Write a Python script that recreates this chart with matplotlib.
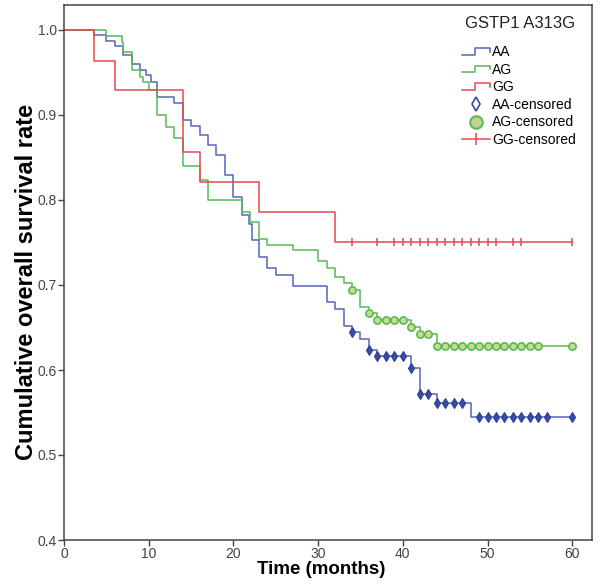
import numpy as np
import matplotlib
matplotlib.use('Agg')
import matplotlib.pyplot as plt
from matplotlib.lines import Line2D
from matplotlib.legend_handler import HandlerLine2D

''' kaplan-meier curves for GSTP1 A313G genotypes, values read off the published figure '''

# event times (months) and survival after each event
aa_time = [0, 3.5, 5, 6, 7, 8, 9, 9.7, 10.3, 11, 13, 14, 15, 16, 17, 18, 19, 20, 21, 21.8, 22.2, 23, 24, 25,
	27, 31, 32, 33, 34, 35, 36, 37, 41, 42, 44, 48]
aa_surv = [1.0, 0.994, 0.987, 0.981, 0.971, 0.960, 0.953, 0.947, 0.939, 0.921, 0.914, 0.894, 0.887, 0.876,
	0.865, 0.853, 0.830, 0.803, 0.782, 0.772, 0.753, 0.733, 0.720, 0.712, 0.699, 0.680, 0.672, 0.652,
	0.645, 0.636, 0.624, 0.617, 0.602, 0.572, 0.561, 0.545]
aa_censored = [34, 36, 37, 38, 39, 40, 41, 42, 43, 44, 45, 46, 47, 49, 50, 51, 52, 53, 54, 55, 56, 57, 60]

ag_time = [0, 5, 6.8, 7, 8, 9, 9.3, 10, 11, 12, 13, 14, 16, 17, 21, 22, 23, 24, 27, 30, 31, 32, 33, 34,
	35, 36, 37, 41, 42, 44]
ag_surv = [1.0, 0.993, 0.986, 0.974, 0.953, 0.945, 0.939, 0.929, 0.900, 0.886, 0.873, 0.840, 0.824, 0.800,
	0.786, 0.774, 0.754, 0.747, 0.741, 0.728, 0.720, 0.710, 0.702, 0.694, 0.674, 0.667, 0.659, 0.651,
	0.642, 0.628]
ag_censored = [34, 36, 37, 38, 39, 40, 41, 42, 43, 44, 45, 46, 47, 48, 49, 50, 51, 52, 53, 54, 55, 56, 60]

gg_time = [0, 3.6, 6, 14, 16, 23, 32]
gg_surv = [1.0, 0.964, 0.929, 0.857, 0.821, 0.786, 0.750]
gg_censored = [34, 37, 39, 40, 41, 42, 43, 44, 45, 46, 47, 48, 49, 50, 51, 53, 54, 60]

groups = ['AA', 'AG', 'GG']
end_time = 60
x_ticks = [0, 10, 20, 30, 40, 50, 60]
y_ticks = [0.4, 0.5, 0.6, 0.7, 0.8, 0.9, 1.0]


class StepHandler(HandlerLine2D):
	# legend icon drawn as a little step, like SPSS does
	def create_artists(self, legend, orig_handle, xdescent, ydescent, width, height, fontsize, trans):
		x0, y0 = -xdescent, -ydescent
		xs = [x0, x0 + width*0.45, x0 + width*0.45, x0 + width, x0 + width]
		ys = [y0 + height*0.15, y0 + height*0.15, y0 + height*0.8, y0 + height*0.8, y0 + height*0.45]
		line = Line2D(xs, ys, color=orig_handle.get_color(), lw=orig_handle.get_linewidth())
		line.set_transform(trans)
		return [line]


def level_at(times, surv, t):
	idx = np.searchsorted(times, t, side='right') - 1
	return np.asarray(surv)[idx]


def main():
	plt.rcParams['font.family'] = ['Liberation Sans', 'DejaVu Sans']
	fig = plt.figure(figsize=(6, 5.87), dpi=100)
	ax = fig.add_axes([64/600, 1-540/587, 528/600, 535/587])

	colors = {'AA': '#5566b8', 'AG': '#55bb55', 'GG': '#e8484e'}
	data = {'AA': (aa_time, aa_surv, aa_censored),
		'AG': (ag_time, ag_surv, ag_censored),
		'GG': (gg_time, gg_surv, gg_censored)}

	for g in groups:
		t, s, c = data[g]
		ax.step(list(t) + [end_time], list(s) + [s[-1]], where='post', color=colors[g], lw=1.1)

	# censored marks
	t, s, c = data['AA']
	ax.plot(c, level_at(t, s, c), ls='none', marker='d', ms=4.8, mfc='#3a4ca6', mec='#2c3d96', mew=0.8)
	t, s, c = data['AG']
	ax.plot(c, level_at(t, s, c), ls='none', marker='o', ms=5.2, mfc='#cdd98e', mec='#55bb55', mew=1.2)
	t, s, c = data['GG']
	ax.plot(c, level_at(t, s, c), ls='none', marker='|', ms=6, mec=colors['GG'], mew=1.1)

	ax.set_xlim(0, 528/8.47)
	ax.set_ylim(0.4, 0.4 + 535/850)
	ax.set_xticks(x_ticks)
	ax.set_yticks(y_ticks)
	ax.set_yticklabels(['{:.1f}'.format(v) for v in y_ticks])
	ax.tick_params(direction='out', length=4, width=1, color='#444444', labelcolor='#444444', labelsize=10, pad=1)
	for sp in ax.spines.values():
		sp.set_color('#444444')
		sp.set_linewidth(1.1)
	ax.set_xlabel('Time (months)', fontsize=13.5, fontweight='bold')
	ax.set_ylabel('Cumulative overall survival rate', fontsize=17, fontweight='bold')
	ax.xaxis.set_label_coords((321-64)/528, -21/535)
	ax.yaxis.set_label_coords(-26/528, (540-282)/535)

	# legend
	handles = [Line2D([0], [0], color=colors[g], lw=1.1) for g in groups]
	handles += [Line2D([0], [0], ls='none', marker='d', ms=7, mfc='white', mec='#3a4ca6', mew=1.2),
		Line2D([0], [0], ls='none', marker='o', ms=9, mfc='#c8d28c', mec='#55bb55', mew=1.5),
		Line2D([0], [0], color=colors['GG'], lw=1.1, marker='|', ms=9, mew=1.1)]
	labels = groups + [g + '-censored' for g in groups]
	handler_map = {h: StepHandler() for h in handles[:3]}
	fig.legend(handles, labels, handler_map=handler_map, loc='upper left',
		bbox_to_anchor=(462/600, 1-45/587), frameon=False, fontsize=10, borderpad=0,
		borderaxespad=0, handlelength=2.0, handletextpad=0.15, labelspacing=0.26)
	fig.text(520/600, 1-23/587, 'GSTP1 A313G', ha='center', va='center', fontsize=12, color='#222222')

	fig.savefig('out.png', dpi=100)


if __name__ == "__main__":
	main()
